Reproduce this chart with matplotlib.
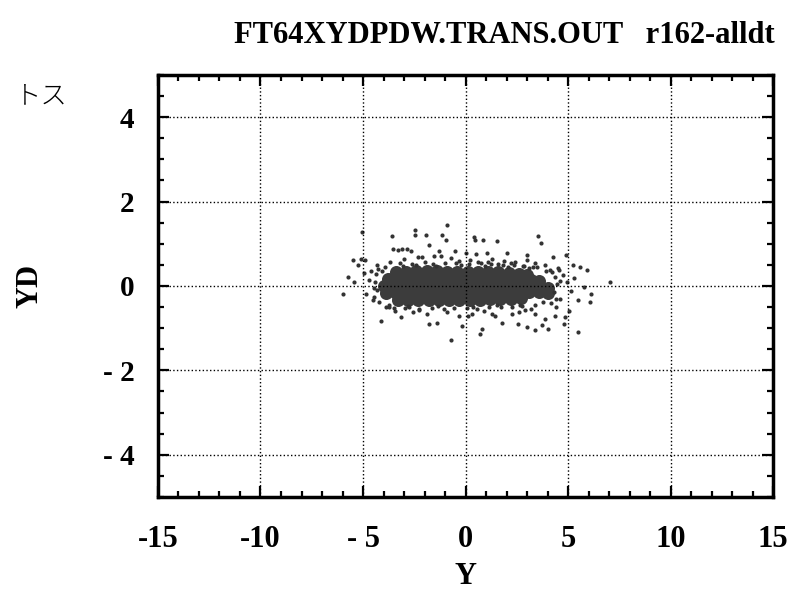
import matplotlib.pyplot as plt
from matplotlib.ticker import MultipleLocator

# dense core of the cloud (rows of overlapping dots)
core_x = [-3.4, -2.9, -2.4, -1.9, -1.4, -0.9, -0.4, 0.1, 0.6, 1.1, 1.6, 2.1, 2.6, 3.0,
          -3.8, -3.3, -2.8, -2.3, -1.8, -1.3, -0.8, -0.3, 0.2, 0.7, 1.2, 1.7, 2.2, 2.7, 3.2, 3.6,
          -4.0, -3.5, -3.0, -2.5, -2.0, -1.5, -1.0, -0.5, 0.0, 0.5, 1.0, 1.5, 2.0, 2.5, 3.0, 3.5, 4.0,
          -3.9, -3.4, -2.9, -2.4, -1.9, -1.4, -0.9, -0.4, 0.1, 0.6, 1.1, 1.6, 2.1, 2.6, 3.1, 3.6, 4.0,
          -3.3, -2.8, -2.3, -1.8, -1.3, -0.8, -0.3, 0.2, 0.7, 1.2, 1.7, 2.2, 2.7]
core_y = [0.33, 0.34, 0.35, 0.35, 0.35, 0.34, 0.34, 0.34, 0.34, 0.33, 0.32, 0.31, 0.29, 0.26,
          0.17, 0.17, 0.17, 0.17, 0.17, 0.17, 0.17, 0.17, 0.17, 0.17, 0.17, 0.16, 0.16, 0.15, 0.14, 0.12,
          0.00, 0.00, 0.00, 0.00, 0.00, 0.00, 0.00, 0.00, 0.00, 0.00, 0.00, 0.00, 0.00, 0.00, -0.01, -0.02, -0.04,
          -0.17, -0.17, -0.17, -0.17, -0.17, -0.17, -0.17, -0.17, -0.17, -0.17, -0.17, -0.16, -0.16, -0.15, -0.15, -0.15, -0.16,
          -0.33, -0.34, -0.34, -0.34, -0.34, -0.34, -0.34, -0.33, -0.33, -0.32, -0.31, -0.30, -0.28]

# fringe and sparse halo, read dot by dot
halo_x = [-0.89, -2.47, -5.05, -2.45, -1.94, -1.13, -0.97, -3.60, 0.40, 0.44, 0.85, 1.56, 3.52, 3.66,
          -1.77, -3.55, -3.30, -3.10, -2.85, -2.65, -1.29, -0.53, 0.00, 0.50, 1.05, 2.02, 2.98, 4.27, 4.89,
          -5.48, -5.10, -4.90, -5.25, 5.24, 5.56, 5.94, -5.73, -5.45, -5.97, 7.06, 5.77, 6.13, 6.05, 5.50,
          -4.11, -3.15, -1.77, -1.37, -0.73, -0.16, 0.73, 0.81, 1.77, 2.58, 2.98, 3.39, 3.71, 4.03, 4.81,
          5.48, 4.87, 4.35, 3.87, 3.39, 2.90, 2.26, 1.29, 0.32, -0.32, -2.26, -2.74, -3.71, -4.52, -4.84,
          -4.60, -4.30, -4.70, -4.45, -4.95, 4.50, 4.75, 4.95, 5.15, 4.60, 5.30, 4.40, 5.05,
          -2.10, -1.55, -0.70, 0.20, 1.30, 1.90, 2.40, 3.00, 3.40, 3.90,
          -3.70, -3.00, -2.30, -1.20, -0.30, 0.60, 1.10, 1.60, 2.20, 2.80, 3.50, 4.10,
          -3.90, -3.45, -2.55, -1.90, -0.90, 0.10, 0.90, 1.45, 2.60, 3.20,
          -4.35, -4.40, -4.30, -4.45, -4.25, -4.20, -3.95, -3.75, -4.05,
          4.35, 4.45, 4.30, 4.55, 4.40, 4.20, 3.95, 4.15, 3.80, 4.60,
          -3.20, -2.60, -2.00, -1.60, -1.00, -0.45, 0.15, 0.75, 1.25, 1.85, 2.35, 2.85, 3.30,
          -3.50, -2.95, -2.25, -1.65, -1.05, -0.55, 0.05, 0.55, 1.15, 1.75, 2.25, 2.75, 3.40,
          -3.05, -2.40, -1.45, -0.20, 0.95, 2.05, 3.10, -2.80, -1.35, 0.35, 1.55, 2.65]
halo_y = [1.44, 1.33, 1.28, 1.20, 1.20, 1.22, 1.10, 1.18, 1.16, 1.08, 1.10, 1.06, 1.18, 1.03,
          0.98, 0.88, 0.86, 0.88, 0.87, 0.83, 0.82, 0.82, 0.77, 0.75, 0.78, 0.79, 0.73, 0.69, 0.73,
          0.61, 0.65, 0.61, 0.49, 0.49, 0.45, 0.39, 0.21, 0.10, -0.18, 0.09, -0.02, -0.18, -0.38, -0.34,
          -0.83, -0.73, -0.89, -0.88, -1.27, -0.96, -1.15, -1.01, -0.88, -0.89, -0.97, -1.05, -0.93, -1.03, -0.91,
          -1.09, -0.73, -0.70, -0.78, -0.66, -0.58, -0.66, -0.66, -0.66, -0.70, -0.58, -0.50, -0.50, -0.34, -0.18,
          0.35, 0.50, 0.15, -0.05, 0.30, 0.42, 0.25, 0.10, -0.12, -0.30, 0.20, -0.50, -0.60,
          0.68, 0.70, 0.66, 0.62, 0.64, 0.60, 0.58, 0.62, 0.55, 0.50,
          0.58, 0.64, 0.68, 0.72, 0.60, 0.56, 0.58, 0.52, 0.55, 0.48, 0.45, 0.38,
          -0.50, -0.60, -0.62, -0.66, -0.62, -0.72, -0.60, -0.70, -0.62, -0.55,
          0.28, 0.10, -0.10, -0.25, 0.40, -0.38, 0.45, -0.45, 0.35,
          0.22, 0.05, -0.15, 0.38, -0.30, 0.32, 0.36, -0.40, -0.38, 0.12,
          0.55, 0.53, 0.56, 0.52, 0.55, 0.54, 0.53, 0.55, 0.52, 0.50, 0.49, 0.47, 0.44,
          -0.53, -0.52, -0.55, -0.52, -0.54, -0.53, -0.52, -0.55, -0.51, -0.50, -0.49, -0.47, -0.46,
          0.47, 0.50, 0.48, 0.49, 0.47, 0.46, 0.42, -0.47, -0.48, -0.49, -0.46, -0.44]

x_ticks = [-15, -10, -5, 0, 5, 10, 15]
x_labels = ["-15", "-10", "- 5", "0", "5", "10", "15"]
y_ticks = [-4, -2, 0, 2, 4]
y_labels = ["- 4", "- 2", "0", "2", "4"]

plt.rcParams['font.family'] = ['Liberation Serif', 'DejaVu Serif']
plt.rcParams['font.weight'] = 'bold'

fig = plt.figure(figsize=(8.04, 5.93), dpi=100)
ax = fig.add_axes([0.1965, 0.162, 0.765, 0.7115])

ax.scatter(core_x, core_y, s=88, color='#3c3c3c', linewidths=0)
ax.scatter(halo_x, halo_y, s=9, color='#333333', linewidths=0)

ax.set_xlim(-15, 15)
ax.set_ylim(-5, 5)
ax.set_xticks(x_ticks, x_labels)
ax.set_yticks(y_ticks, y_labels)
ax.xaxis.set_minor_locator(MultipleLocator(1))
ax.yaxis.set_minor_locator(MultipleLocator(0.5))
ax.tick_params(which='both', direction='in', top=True, right=True, width=1.6)
ax.tick_params(which='major', length=8)
ax.tick_params(which='minor', length=4.5)
ax.tick_params(axis='x', pad=20, labelsize=22)
ax.tick_params(axis='y', pad=17, labelsize=21)
for sp in ax.spines.values():
    sp.set_linewidth(2.5)
ax.grid(True, which='major', linestyle=':', color='black', linewidth=1)

ax.set_xlabel("Y", fontsize=22, fontweight='bold')
ax.set_ylabel("YD", fontsize=22, fontweight='bold')
ax.xaxis.set_label_coords(0.5, -0.155)
ax.yaxis.set_label_coords(-0.185, 0.5)

fig.text(0.627, 0.94, "FT64XYDPDW.TRANS.OUT   r162-alldt", ha='center', va='center',
         fontsize=22, fontweight='bold')
fig.text(0.018, 0.84, "トス", ha='left', va='center', fontsize=19,
         family=['Noto Sans CJK JP', 'DejaVu Sans'], fontweight='light')

fig.savefig("out.png", dpi=100)
